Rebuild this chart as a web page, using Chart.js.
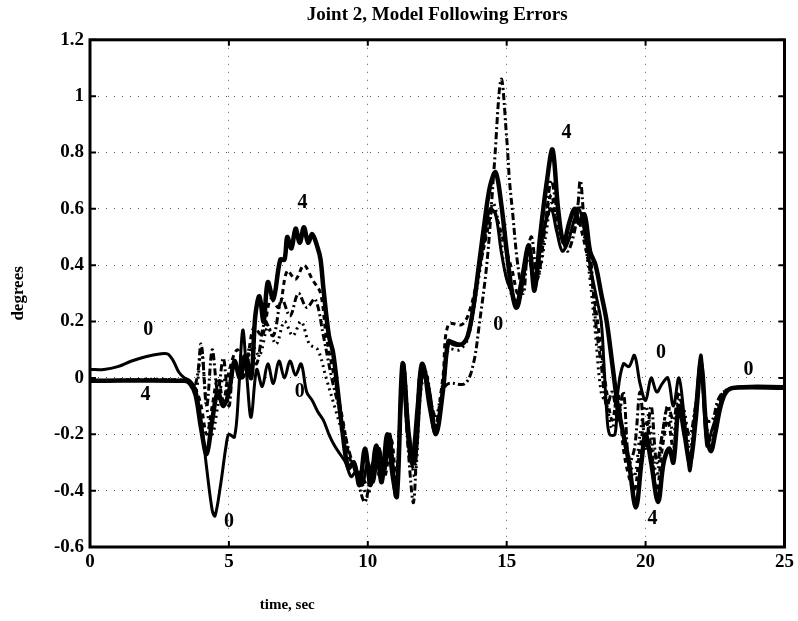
<!DOCTYPE html>
<html>
<head>
<meta charset="utf-8">
<script src="https://cdn.jsdelivr.net/npm/chart.js@4/dist/chart.umd.min.js"></script>
<style>
html,body{margin:0;padding:0;background:#fff;}
canvas{display:block;}
</style>
</head>
<body>
<canvas id="c" width="798" height="621"></canvas>
<script>
// ---- data ----
const titleText = "Joint 2, Model Following Errors";
const xTitle = "time, sec";
const yTitle = "degrees";
const xTickValues = [0, 5, 10, 15, 20, 25];
const xTickLabels = ["0", "5", "10", "15", "20", "25"];
const yTickValues = [-0.6, -0.4, -0.2, 0, 0.2, 0.4, 0.6, 0.8, 1, 1.2];
const yTickLabels = ["-0.6", "-0.4", "-0.2", "0", "0.2", "0.4", "0.6", "0.8", "1", "1.2"];

// curve 0 (solid)
const t0 = [0,0.5,1,1.5,2,2.5,2.8,3.0,3.2,3.4,3.6,3.8,4.0,4.2,4.4,4.5,4.7,4.9,5.0,5.2,5.35,5.5,5.65,5.8,6.0,6.2,6.4,6.6,6.8,7.0,7.2,7.4,7.6,7.8,8.0,8.2,8.4,8.6,8.8,9.0,9.2,9.4,9.6,9.8,10.0,10.2,10.4,10.6,10.8,11.0,11.2,11.3,11.5,11.7,11.9,12.0,12.2,12.45,12.7,12.9,13.0,13.4,13.6,13.8,14.0,14.2,14.4,14.6,14.8,15.0,15.2,15.4,15.6,15.8,16.0,16.2,16.4,16.6,16.8,17.0,17.2,17.4,17.6,17.8,18.0,18.2,18.4,18.5,18.6,18.7,18.9,19.0,19.2,19.4,19.6,19.8,20.0,20.2,20.4,20.6,20.8,21.0,21.2,21.4,21.6,21.8,22.0,22.2,22.4,22.6,22.8,23.0,23.5,25];
const v0 = [0.03,0.03,0.04,0.06,0.075,0.085,0.085,0.06,0.02,0.0,-0.01,-0.04,-0.15,-0.32,-0.47,-0.49,-0.38,-0.24,-0.2,-0.21,-0.05,0.17,0.0,-0.14,0.03,-0.03,0.05,-0.02,0.06,0.0,0.06,0.01,0.05,-0.05,-0.08,-0.12,-0.15,-0.2,-0.24,-0.27,-0.3,-0.35,-0.33,-0.38,-0.3,-0.37,-0.25,-0.33,-0.2,-0.42,-0.1,0.05,-0.2,-0.3,-0.05,0.03,-0.1,-0.2,-0.05,0.13,0.13,0.12,0.15,0.25,0.38,0.5,0.6,0.58,0.45,0.35,0.3,0.25,0.35,0.45,0.33,0.45,0.55,0.6,0.52,0.45,0.48,0.55,0.6,0.52,0.4,0.3,0.2,0.05,-0.12,-0.2,-0.2,-0.05,0.05,0.04,0.08,-0.02,-0.08,0.0,-0.05,-0.02,0.0,-0.1,0.0,-0.15,-0.33,-0.1,0.08,-0.24,-0.18,-0.12,-0.06,-0.04,-0.03,-0.03];

// curve 1 (dotted)
const t1 = [0,3.5,3.8,4.0,4.2,4.4,4.6,4.8,5.0,5.2,5.5,5.8,6.1,6.4,6.7,7.0,7.3,7.6,7.9,8.2,8.5,8.8,9.1,9.4,9.7,10.0,10.2,10.5,10.8,11.0,11.2,11.3,11.5,11.7,11.9,12.1,12.4,12.7,12.9,13.3,13.6,13.9,14.2,14.5,14.7,14.9,15.1,15.3,15.5,15.7,15.9,16.1,16.4,16.6,16.9,17.1,17.4,17.6,17.8,18.0,18.2,18.4,18.6,18.8,19.0,19.2,19.4,19.6,19.8,20.0,20.2,20.4,20.6,20.8,21.0,21.2,21.4,21.6,21.8,22.0,22.2,22.4,22.6,22.8,23.2,25];
const v1 = [-0.01,-0.01,-0.05,0.1,-0.1,-0.2,-0.1,0.0,-0.05,0.05,0.02,0.12,0.08,0.18,0.12,0.2,0.15,0.2,0.12,0.1,0.0,-0.1,-0.2,-0.3,-0.35,-0.42,-0.3,-0.36,-0.25,-0.38,-0.05,0.05,-0.22,-0.35,-0.05,0.02,-0.15,-0.02,0.1,0.1,0.14,0.3,0.48,0.62,0.55,0.4,0.32,0.27,0.32,0.42,0.4,0.35,0.5,0.62,0.5,0.48,0.55,0.62,0.5,0.35,0.15,-0.05,-0.1,-0.18,-0.1,-0.2,-0.28,-0.35,-0.2,-0.1,-0.2,-0.35,-0.2,-0.1,-0.2,-0.08,-0.12,-0.25,-0.1,0.02,-0.18,-0.2,-0.1,-0.05,-0.035,-0.035];

// curve 2 (dash-dot)
const t2 = [0,3.5,3.8,4.0,4.2,4.4,4.6,4.8,5.0,5.2,5.5,5.8,6.0,6.3,6.6,6.9,7.2,7.5,7.8,8.1,8.4,8.7,9.0,9.3,9.6,9.9,10.2,10.5,10.8,11.0,11.25,11.45,11.65,11.85,12.0,12.3,12.5,12.7,12.9,13.5,13.8,14.0,14.3,14.55,14.8,15.0,15.1,15.2,15.4,15.6,15.75,15.9,16.1,16.4,16.6,16.8,17.0,17.2,17.5,17.65,17.8,18.0,18.2,18.4,18.6,18.8,19.0,19.2,19.4,19.6,19.8,20.0,20.2,20.4,20.6,20.8,21.0,21.2,21.4,21.6,21.8,22.0,22.2,22.4,22.6,22.8,23.2,25];
const v2 = [-0.01,-0.01,-0.02,0.12,-0.1,0.1,-0.05,0.07,-0.1,0.05,0.0,0.1,0.05,0.2,0.15,0.28,0.22,0.3,0.25,0.28,0.15,0.0,-0.12,-0.25,-0.35,-0.44,-0.3,-0.35,-0.22,-0.4,0.02,-0.25,-0.44,0.0,0.03,-0.1,-0.15,-0.05,-0.02,-0.02,0.05,0.18,0.42,0.75,1.06,0.85,0.7,0.6,0.4,0.3,0.45,0.5,0.35,0.55,0.7,0.6,0.5,0.45,0.55,0.7,0.55,0.45,0.2,0.05,-0.1,-0.05,-0.15,-0.05,-0.3,-0.25,-0.05,-0.25,-0.1,-0.3,-0.2,-0.1,-0.15,-0.05,-0.15,-0.2,-0.1,0.0,-0.15,-0.15,-0.08,-0.05,-0.035,-0.035];

// curve 3 (dashed)
const t3 = [0,3.5,3.8,4.0,4.2,4.4,4.6,4.8,5.0,5.3,5.6,5.9,6.2,6.5,6.8,7.1,7.4,7.7,8.0,8.3,8.5,8.8,9.1,9.4,9.7,10.0,10.3,10.6,10.85,11.05,11.25,11.45,11.65,11.9,12.1,12.4,12.7,12.9,13.4,13.7,14.0,14.3,14.5,14.7,14.9,15.2,15.4,15.6,15.8,16.0,16.3,16.6,16.8,17.0,17.3,17.5,17.7,18.0,18.2,18.4,18.6,18.8,19.0,19.2,19.4,19.6,19.8,20.0,20.2,20.4,20.6,20.8,21.0,21.2,21.4,21.6,21.8,22.0,22.2,22.4,22.6,22.8,23.2,25];
const v3 = [-0.01,-0.01,-0.04,-0.1,-0.2,-0.1,0.0,-0.08,0.02,0.1,0.05,0.18,0.15,0.28,0.25,0.38,0.35,0.4,0.35,0.3,0.15,0.0,-0.15,-0.3,-0.33,-0.38,-0.26,-0.35,-0.22,-0.4,0.03,-0.2,-0.32,-0.02,0.02,-0.18,0.0,0.19,0.19,0.25,0.38,0.52,0.6,0.55,0.48,0.38,0.3,0.38,0.42,0.35,0.5,0.65,0.55,0.5,0.5,0.58,0.52,0.38,0.25,0.1,-0.05,-0.15,-0.05,-0.25,-0.35,-0.4,-0.25,-0.15,-0.25,-0.4,-0.25,-0.15,-0.25,-0.1,-0.18,-0.28,-0.12,0.03,-0.2,-0.22,-0.12,-0.06,-0.035,-0.035];

// curve 4 (thick solid)
const t4 = [0,3.4,3.6,3.8,4.0,4.2,4.4,4.6,4.8,5.0,5.2,5.4,5.6,5.8,5.95,6.1,6.25,6.4,6.6,6.85,7.0,7.1,7.25,7.4,7.55,7.7,7.85,8.0,8.2,8.3,8.4,8.6,8.75,8.9,9.1,9.3,9.5,9.7,9.9,10.1,10.3,10.5,10.7,10.9,11.05,11.25,11.45,11.6,11.8,11.95,12.2,12.45,12.7,12.9,13.1,13.4,13.6,13.8,14.0,14.2,14.4,14.6,14.8,15.0,15.2,15.35,15.55,15.8,16.0,16.2,16.45,16.65,16.85,17.05,17.25,17.45,17.6,17.8,18.0,18.2,18.4,18.6,18.8,19.0,19.2,19.4,19.65,19.85,20.0,20.2,20.45,20.65,20.85,21.0,21.2,21.4,21.6,21.8,22.0,22.2,22.35,22.5,22.7,22.9,23.2,25];
const v4 = [-0.01,-0.01,-0.02,-0.06,-0.18,-0.27,-0.15,-0.05,-0.1,-0.05,0.06,0.0,0.08,0.0,0.22,0.29,0.2,0.34,0.28,0.42,0.42,0.5,0.46,0.53,0.48,0.535,0.48,0.51,0.46,0.42,0.32,0.15,0.09,-0.03,-0.2,-0.32,-0.3,-0.38,-0.25,-0.38,-0.24,-0.37,-0.2,-0.35,-0.42,0.05,-0.2,-0.3,-0.1,0.05,-0.05,-0.2,-0.05,0.13,0.12,0.12,0.15,0.25,0.4,0.55,0.68,0.73,0.62,0.45,0.3,0.25,0.35,0.47,0.31,0.5,0.7,0.81,0.6,0.48,0.55,0.6,0.55,0.58,0.45,0.4,0.3,0.2,0.05,-0.1,-0.2,-0.3,-0.46,-0.3,-0.2,-0.3,-0.44,-0.3,-0.25,-0.3,-0.1,-0.2,-0.3,-0.15,0.05,-0.2,-0.26,-0.2,-0.1,-0.05,-0.035,-0.035];

// curve labels (text, time, value)
const labelText = ["0","4","0","0","4","0","4","0","4","0"];
const labelT = [2.1, 2.0, 5.0, 7.55, 7.65, 14.7, 17.15, 20.55, 20.25, 23.7];
const labelV = [0.17, -0.06, -0.51, -0.05, 0.62, 0.19, 0.87, 0.09, -0.5, 0.03];

// ---- chart ----
const pts = (t, v) => t.map((x, i) => ({x: x, y: v[i]}));
const serif = "'Liberation Serif', 'DejaVu Serif', serif";

const frame = {
  id: 'frame',
  afterDatasetsDraw(chart) {
    const {ctx, chartArea: a, scales} = chart;
    ctx.save();
    ctx.fillStyle = '#000';
    ctx.font = 'bold 20px ' + serif;
    ctx.textAlign = 'center';
    ctx.textBaseline = 'middle';
    labelText.forEach((s, i) => {
      ctx.fillText(s, scales.x.getPixelForValue(labelT[i]), scales.y.getPixelForValue(labelV[i]));
    });
    ctx.strokeStyle = '#000';
    ctx.lineWidth = 3;
    ctx.strokeRect(a.left, a.top, a.right - a.left, a.bottom - a.top);
    ctx.lineWidth = 2;
    const L = 6;
    xTickValues.forEach(v => {
      const px = scales.x.getPixelForValue(v);
      ctx.beginPath();
      ctx.moveTo(px, a.bottom); ctx.lineTo(px, a.bottom - L);
      ctx.moveTo(px, a.top); ctx.lineTo(px, a.top + L);
      ctx.stroke();
    });
    yTickValues.forEach(v => {
      const py = scales.y.getPixelForValue(v);
      ctx.beginPath();
      ctx.moveTo(a.left, py); ctx.lineTo(a.left + L, py);
      ctx.moveTo(a.right, py); ctx.lineTo(a.right - L, py);
      ctx.stroke();
    });
    // x-axis title (placed left of centre, as in the original)
    ctx.font = 'bold 15px ' + serif;
    ctx.fillText(xTitle, scales.x.getPixelForValue(7.1), 605);
    ctx.restore();
  }
};

const common = {pointRadius: 0, borderColor: '#000', fill: false, tension: 0.35};

new Chart(document.getElementById('c'), {
  type: 'line',
  data: {
    datasets: [
      Object.assign({label: '0', data: pts(t0, v0), borderWidth: 3}, common),
      Object.assign({label: '1', data: pts(t1, v1), borderWidth: 3, borderDash: [2, 4]}, common),
      Object.assign({label: '2', data: pts(t2, v2), borderWidth: 3, borderDash: [7, 3, 2, 3]}, common),
      Object.assign({label: '3', data: pts(t3, v3), borderWidth: 3, borderDash: [5, 4]}, common),
      Object.assign({label: '4', data: pts(t4, v4), borderWidth: 4.5}, common)
    ]
  },
  options: {
    responsive: false,
    devicePixelRatio: 1,
    animation: false,
    layout: {padding: {left: 0, right: 11, top: 0, bottom: 0}},
    plugins: {
      legend: {display: false},
      tooltip: {enabled: false},
      title: {
        display: true,
        fullSize: false,
        text: titleText,
        color: '#000',
        font: {family: serif, size: 19, weight: 'bold'},
        padding: {top: 4, bottom: 13}
      }
    },
    scales: {
      x: {
        type: 'linear',
        min: 0, max: 25,
        afterBuildTicks: s => { s.ticks = xTickValues.map(v => ({value: v})); },
        afterFit: s => { s.height = 74; },
        ticks: {
          color: '#000',
          font: {family: serif, size: 19, weight: 'bold'},
          padding: 4,
          maxRotation: 0,
          callback: (v) => xTickLabels[xTickValues.indexOf(v)]
        },
        grid: {color: '#555', lineWidth: 1, drawTicks: false},
        border: {display: false, dash: [1, 7]},
        title: {display: false}
      },
      y: {
        type: 'linear',
        min: -0.6, max: 1.2,
        afterBuildTicks: s => { s.ticks = yTickValues.map(v => ({value: v})); },
        afterFit: s => { s.width = 90; },
        ticks: {
          color: '#000',
          font: {family: serif, size: 19, weight: 'bold'},
          padding: 6,
          callback: (v) => {
            const i = yTickValues.findIndex(x => Math.abs(x - v) < 1e-9);
            return i >= 0 ? yTickLabels[i] : '';
          }
        },
        grid: {color: '#555', lineWidth: 1, drawTicks: false},
        border: {display: false, dash: [1, 7]},
        title: {
          display: true, text: yTitle, color: '#000',
          font: {family: serif, size: 17, weight: 'bold'},
          padding: {top: 8, bottom: 0}
        }
      }
    }
  },
  plugins: [frame]
});
</script>
</body>
</html>
